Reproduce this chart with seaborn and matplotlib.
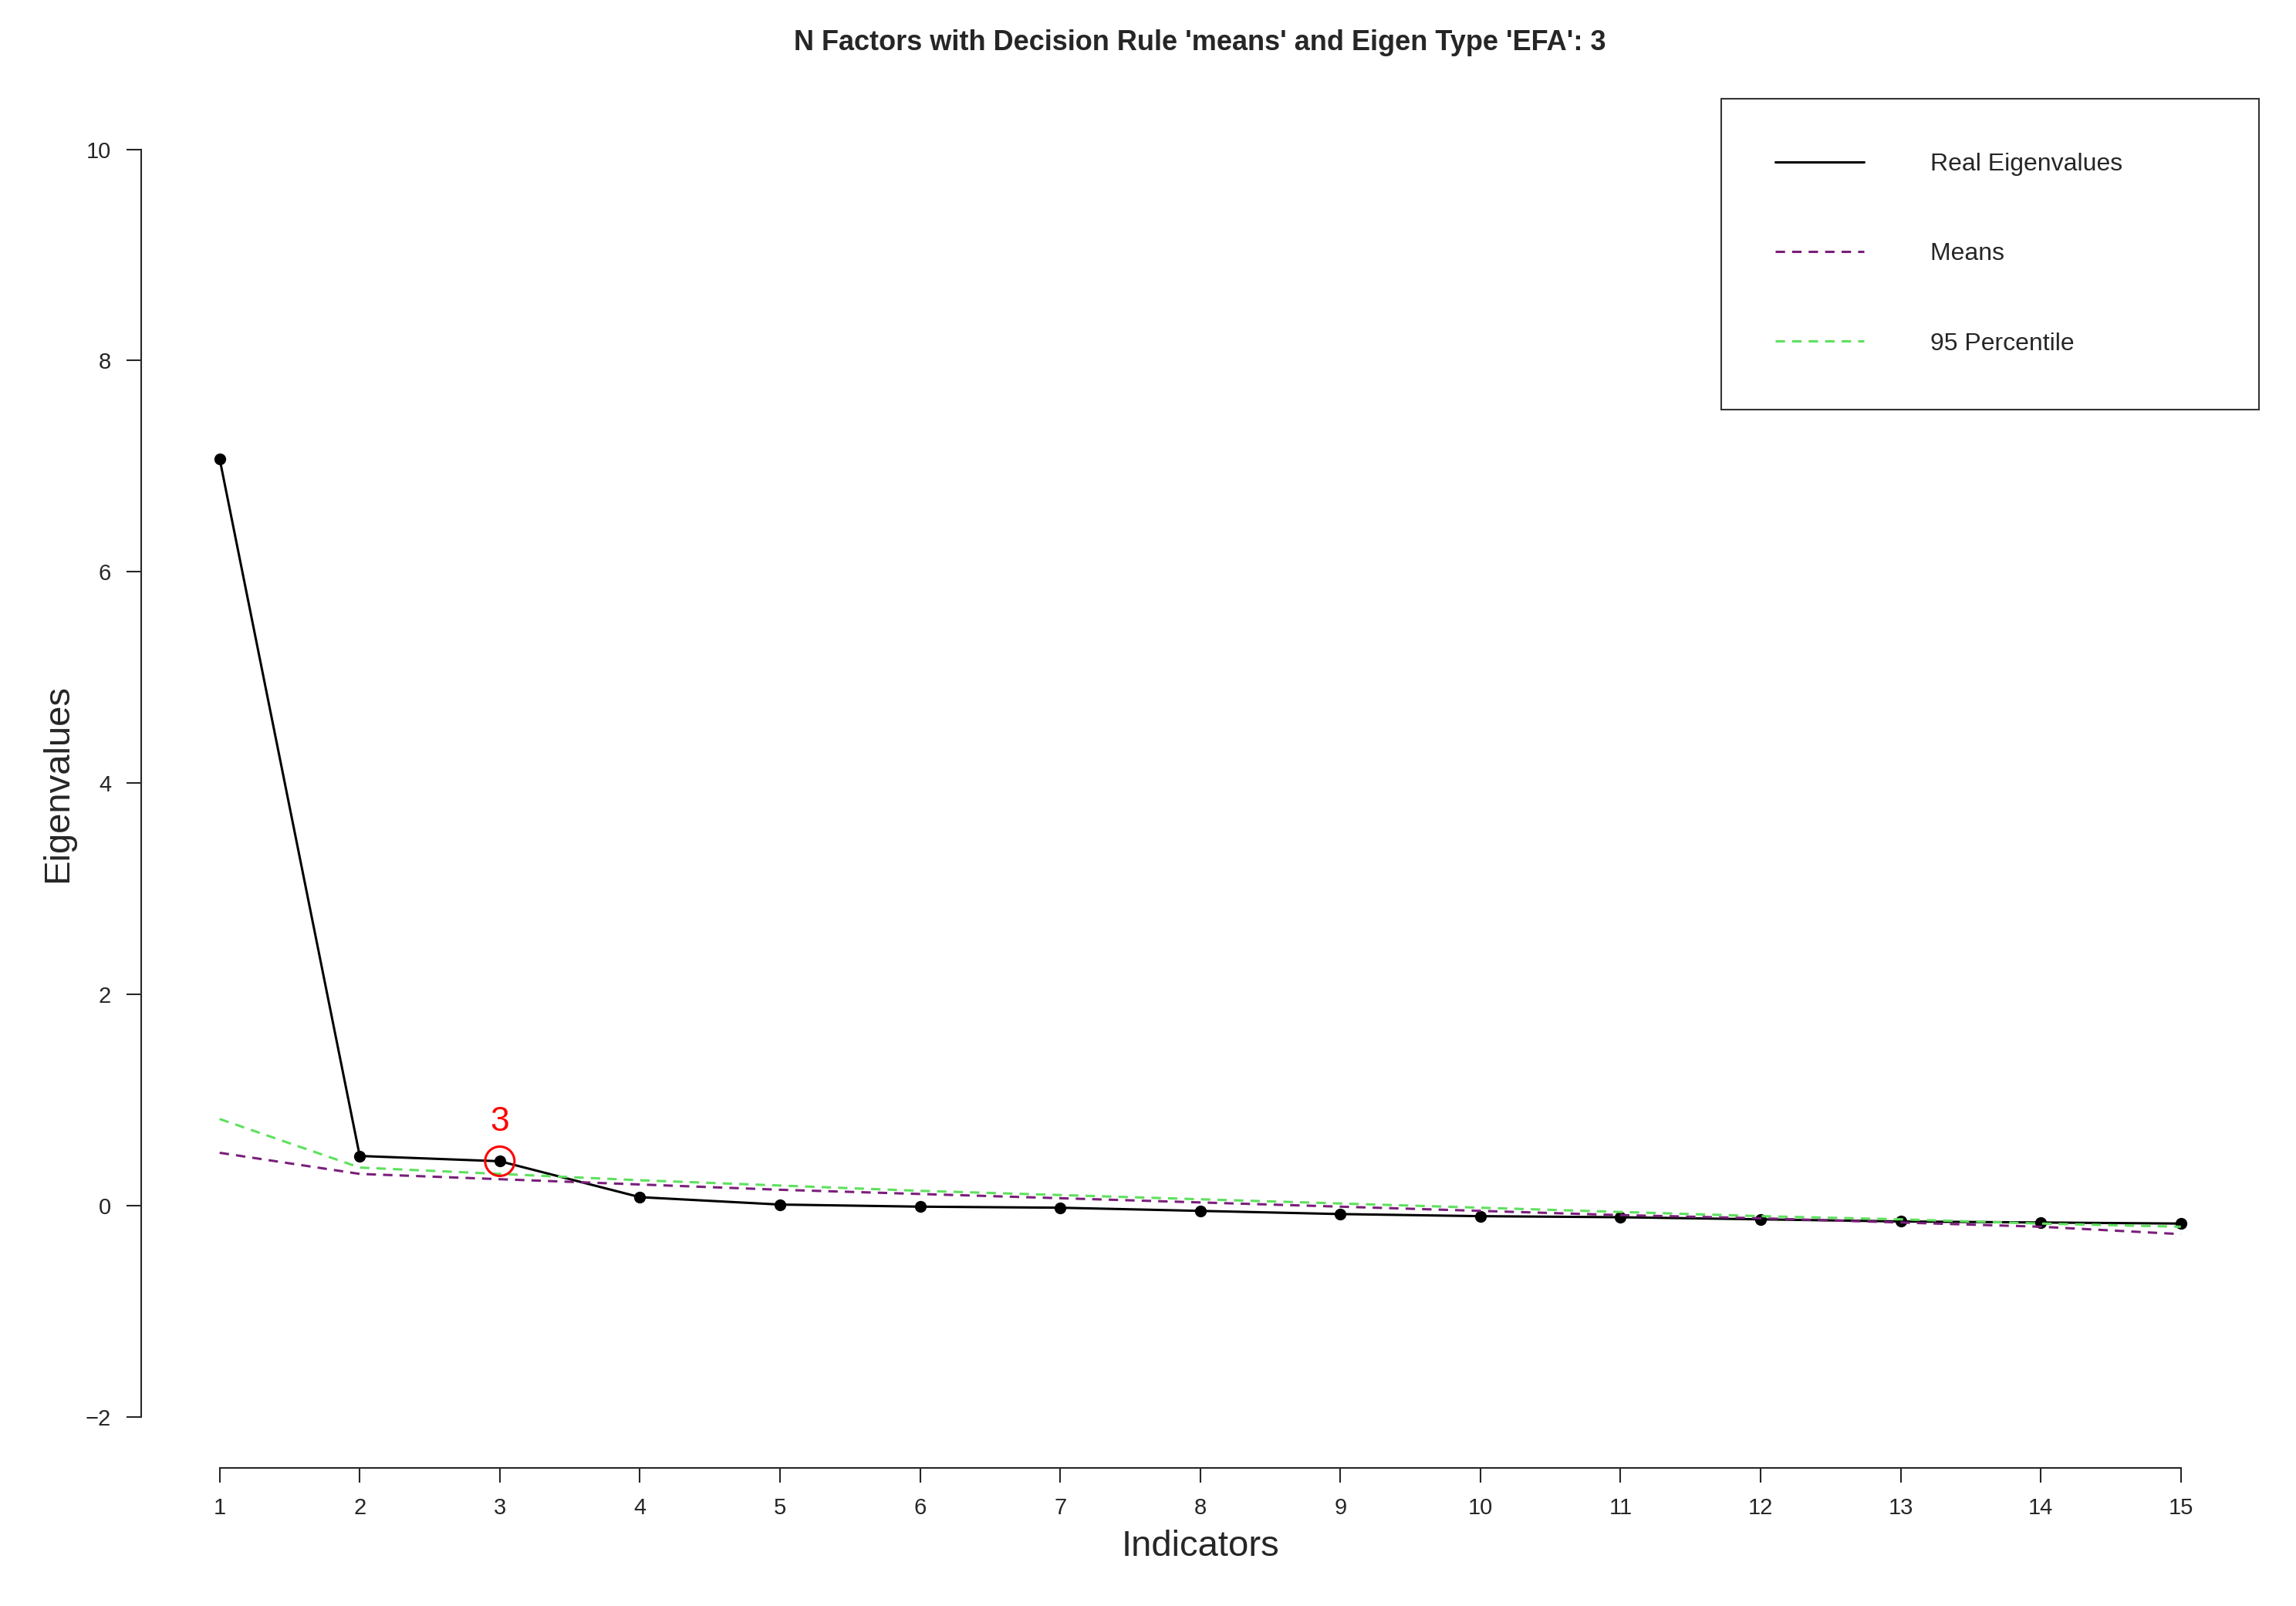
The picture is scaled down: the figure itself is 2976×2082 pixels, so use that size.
import matplotlib
matplotlib.use("Agg")
import matplotlib.pyplot as plt
import pandas as pd
import seaborn as sns

sns.set_style("ticks")
plt.rcParams["font.family"] = ["Liberation Sans", "DejaVu Sans"]

indicators = list(range(1, 16))
real_eigen = [7.07, 0.47, 0.42, 0.08, 0.01, -0.01, -0.02, -0.05, -0.08, -0.10, -0.11, -0.13, -0.15, -0.16, -0.17]
means = [0.50, 0.30, 0.25, 0.20, 0.15, 0.11, 0.07, 0.03, -0.01, -0.05, -0.09, -0.12, -0.16, -0.20, -0.27]
pct95 = [0.82, 0.36, 0.30, 0.24, 0.19, 0.14, 0.10, 0.06, 0.02, -0.02, -0.06, -0.10, -0.13, -0.17, -0.20]
n_factors = 3

df = pd.DataFrame({"Indicators": indicators, "Real": real_eigen, "Means": means, "P95": pct95})

fig = plt.figure(figsize=(29.76, 20.82), dpi=100)
ax = fig.add_axes([0.0615, 0.0862, 0.9225, 0.8524])

sns.lineplot(data=df, x="Indicators", y="Real", ax=ax, color="black", lw=2.2,
             marker="o", markersize=11, markeredgewidth=0, label="Real Eigenvalues")
sns.lineplot(data=df, x="Indicators", y="Means", ax=ax, color="#7a1f7a", lw=2.2,
             linestyle=(0, (4, 3)), label="Means")
sns.lineplot(data=df, x="Indicators", y="P95", ax=ax, color="#5ee05e", lw=2.2,
             linestyle=(0, (4, 3)), label="95 Percentile")

sel = df[df["Indicators"] == n_factors]
ax.scatter(sel["Indicators"], sel["Real"], s=750, facecolors="none", edgecolors="red", linewidths=2.2, zorder=5)
ax.text(n_factors, sel["Real"].iloc[0] + 0.22, str(n_factors), color="red", fontsize=32,
        ha="center", va="bottom")

ax.set_xlim(0.44, 15.56)
ax.set_ylim(-2.48, 10.48)
ax.set_xticks(indicators)
ax.set_yticks([-2, 0, 2, 4, 6, 8, 10])
ax.spines["top"].set_visible(False)
ax.spines["right"].set_visible(False)
ax.spines["left"].set_bounds(-2, 10)
ax.spines["bottom"].set_bounds(1, 15)
for s in ["left", "bottom"]:
    ax.spines[s].set_linewidth(1.5)
ax.tick_params(labelsize=21, length=14, width=1.5, pad=14)
ax.set_xlabel("Indicators", fontsize=34, labelpad=10)
ax.set_ylabel("Eigenvalues", fontsize=34, labelpad=10)
ax.set_title("N Factors with Decision Rule 'means' and Eigen Type 'EFA': 3",
             fontsize=26, fontweight="bold", pad=45)

leg = ax.legend(loc="upper right", bbox_to_anchor=(1.0, 1.0), fontsize=23, frameon=True,
                fancybox=False, edgecolor="black", borderpad=2.2, labelspacing=2.7,
                handlelength=3.6, handletextpad=2.7, borderaxespad=0)
leg.get_frame().set_linewidth(1.5)
for h in leg.legend_handles:
    h.set_marker("")
# widen the frame to the right, as in the reference
for t in leg.get_texts():
    t.set_text(t.get_text() + "            ")

fig.savefig("out.png", dpi=100)
